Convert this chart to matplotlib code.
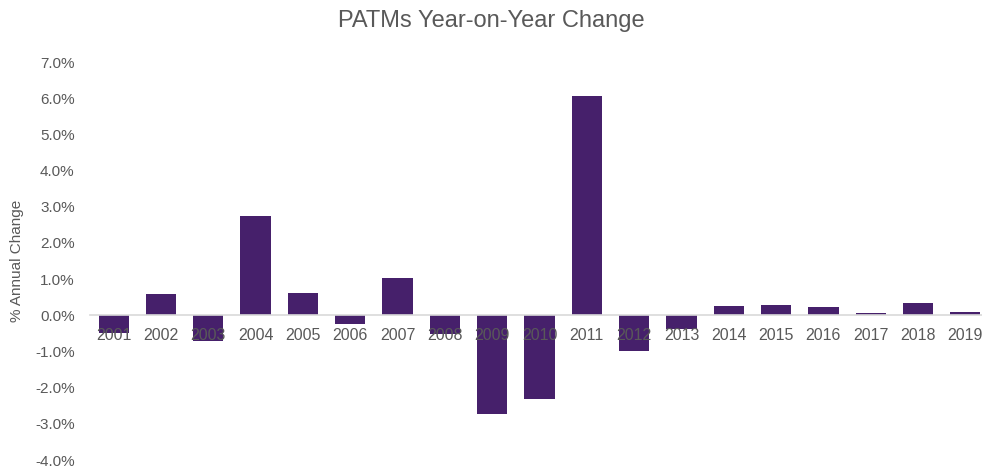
import matplotlib.pyplot as plt
from matplotlib.ticker import FuncFormatter

years = [str(y) for y in range(2001, 2020)]
changes = [-0.48, 0.58, -0.72, 2.73, 0.61, -0.25, 1.02, -0.52, -2.72, -2.32,
           6.05, -0.99, -0.38, 0.25, 0.28, 0.22, 0.07, 0.35, 0.08]

plt.rcParams['font.family'] = ['Liberation Sans', 'DejaVu Sans']
grey = '#595959'

fig = plt.figure(figsize=(9.82, 4.67), dpi=100)
ax = fig.add_axes([90 / 982, 7 / 467, 899 / 982, 398 / 467])

x = list(range(len(years)))
ax.bar(x, changes, width=0.64, color='#46206b', zorder=1)

ax.set_xlim(-0.5, len(years) - 0.5)
ax.set_ylim(-4, 7)
ax.set_yticks(range(-4, 8))
ax.yaxis.set_major_formatter(FuncFormatter(lambda v, p: f'{v:.1f}%'))
ax.set_xticks(x)
ax.set_xticklabels(years)

for s in ['top', 'right', 'left']:
    ax.spines[s].set_visible(False)
ax.spines['bottom'].set_position(('data', 0))
ax.spines['bottom'].set_color('#d9d9d9')
ax.spines['bottom'].set_linewidth(1.2)

ax.tick_params(axis='x', length=0, pad=9, labelsize=11.5, labelcolor=grey)
ax.tick_params(axis='y', length=0, pad=11, labelsize=11, labelcolor=grey)

ax.set_ylabel('% Annual Change', fontsize=11, color=grey, labelpad=8)
fig.text(0.5, 0.955, 'PATMs Year-on-Year Change', ha='center', va='center',
         fontsize=17, color=grey)

fig.savefig('out.png', dpi=100)
